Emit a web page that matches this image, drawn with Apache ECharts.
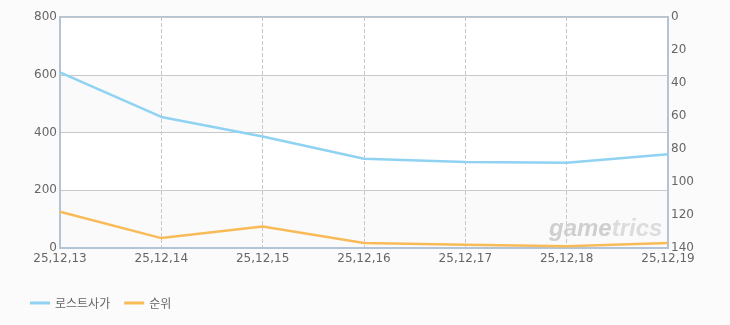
<!DOCTYPE html>
<html><head><meta charset="utf-8">
<script src="https://cdn.jsdelivr.net/npm/echarts@6/dist/echarts.min.js"></script>
<style>html,body{margin:0;padding:0;background:#fbfbfb}#c{width:730px;height:325px}</style>
</head><body><div id="c"></div>
<script>
const categories = ['25,12,13','25,12,14','25,12,15','25,12,16','25,12,17','25,12,18','25,12,19'];
const users = [608, 454, 386, 309, 298, 295, 325];
const rank = [118, 134, 127, 137, 138, 139, 137];
const leftTicks = [0, 800, 200];
const rightTicks = [0, 140, 20];

const chart = echarts.init(document.getElementById('c'));
const lab = {color:'#666', fontSize:12, fontFamily:'DejaVu Sans, sans-serif'};
chart.setOption({
  backgroundColor:'#fbfbfb',
  animation:false,
  grid:{left:60, right:62, top:17, bottom:77, show:true, borderColor:'#b3c4d6', borderWidth:2, backgroundColor:'#fff'},
  legend:{left:25, top:292, itemWidth:20, itemHeight:3, itemGap:14, icon:'rect',
    textStyle:{color:'#666', fontSize:12, fontFamily:'Noto Sans CJK KR, sans-serif'},
    data:['로스트사가','순위']},
  xAxis:{type:'category', data:categories, boundaryGap:false,
    axisLine:{lineStyle:{color:'#b3c4d6', width:2}}, axisTick:{show:false},
    axisLabel:Object.assign({margin:5, showMinLabel:true, showMaxLabel:true, interval:0}, lab),
    splitLine:{show:true, lineStyle:{color:'#c8c8c8', type:'dashed', width:1}}},
  yAxis:[
    {type:'value', min:leftTicks[0], max:leftTicks[1], interval:leftTicks[2],
     axisLine:{show:true, lineStyle:{color:'#b3c4d6', width:2}}, axisTick:{show:false},
     axisLabel:Object.assign({margin:3}, lab),
     splitLine:{lineStyle:{color:'#c8c8c8', width:1}},
     splitArea:{show:true, areaStyle:{color:['#fafafa','#ffffff']}}},
    {type:'value', min:rightTicks[0], max:rightTicks[1], interval:rightTicks[2], inverse:true,
     axisLine:{show:true, lineStyle:{color:'#b3c4d6', width:2}}, axisTick:{show:false},
     axisLabel:Object.assign({margin:3}, lab), splitLine:{show:false}}
  ],
  graphic:[{type:'text', left:549, top:217, z:1, silent:true,
    style:{text:'{a|game}{b|trics}', font:'italic bold 24px Arial, Liberation Sans, sans-serif',
      rich:{a:{fill:'#cfcfcf', font:'italic bold 24px Liberation Sans, sans-serif'},
            b:{fill:'#dcdcdc', font:'italic bold 24px Liberation Sans, sans-serif'}}}}],
  series:[
    {name:'로스트사가', type:'line', data:users, yAxisIndex:0, symbol:'none', z:3,
     lineStyle:{color:'#8fd2f2', width:2.5}, itemStyle:{color:'#8fd2f2'}},
    {name:'순위', type:'line', data:rank, yAxisIndex:1, symbol:'none', z:3,
     lineStyle:{color:'#f8bb58', width:2.5}, itemStyle:{color:'#f8bb58'}}
  ]
});
</script></body></html>
